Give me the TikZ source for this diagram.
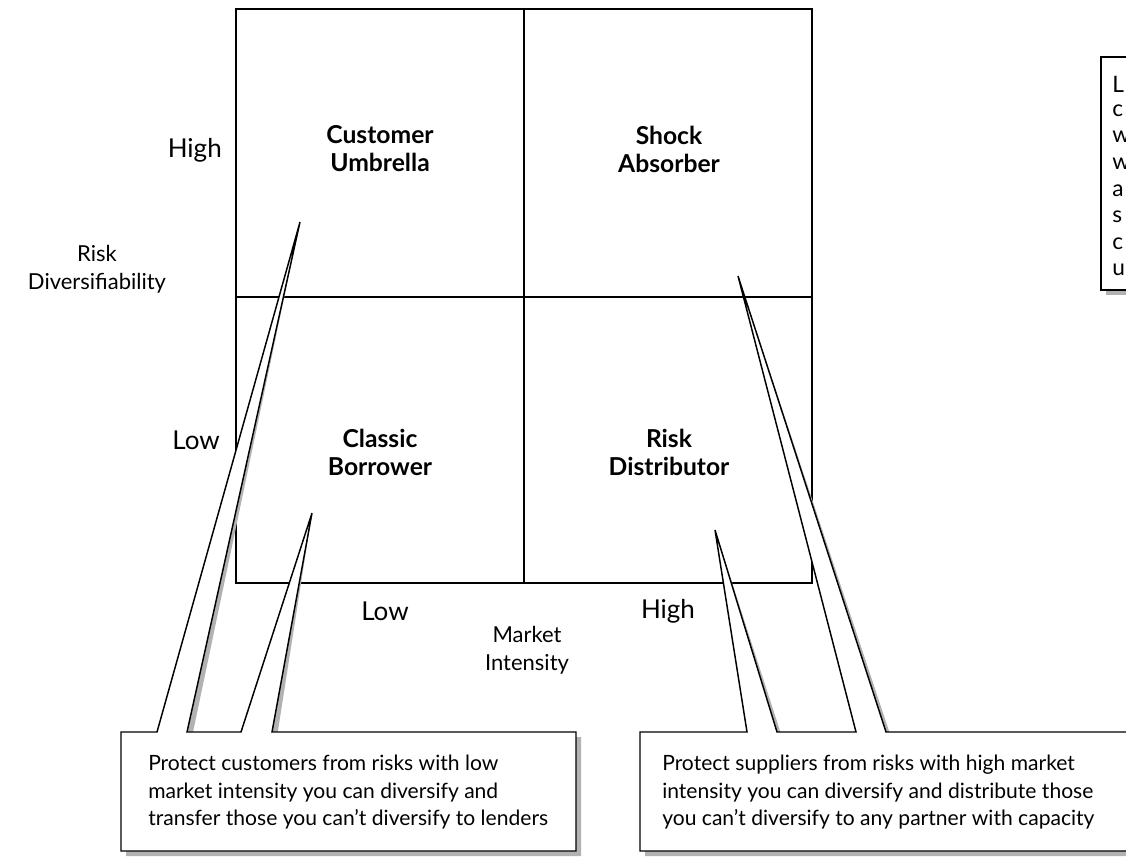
\documentclass[tikz,border=0pt]{standalone}
\usepackage{fontspec}
\setmainfont{Lato}
\begin{document}
\begin{tikzpicture}[x=0.75pt,y=-0.75pt,
  gridline/.style={draw=black, line width=1.1pt},
  quadtitle/.style={font=\bfseries\fontsize{18.5}{21}\selectfont, align=center, inner sep=0pt},
  ticklbl/.style={font=\fontsize{19.5}{21}\selectfont, inner sep=0pt},
  axistitle/.style={font=\fontsize{16.5}{21}\selectfont, align=center, inner sep=0pt},
  bodytext/.style={font=\fontsize{15.8}{20.6}\selectfont, align=left, inner sep=0pt},
  boxletter/.style={font=\fontsize{17}{20}\selectfont, inner sep=0pt, anchor=west},
  shadowshape/.style={fill=black!30, draw=none},
  calloutshape/.style={fill=white, draw=black, line width=1.1pt, line join=miter}]
\useasboundingbox (0,0) rectangle (1126,860);
\begin{scope}
\clip (0,0) rectangle (1126,860);

% the 2x2 grid
\draw[gridline] (236,9) rectangle (812,583);
\draw[gridline] (524,9) -- (524,583);
\draw[gridline] (236,297) -- (812,297);

% quadrant titles
\node[quadtitle] (cu) at (380,149) {Customer\\Umbrella};
\node[quadtitle] (sa) at (669,149) {Shock\\Absorber};
\node[quadtitle] (cb) at (380,452) {Classic\\Borrower};
\node[quadtitle] (rd) at (669,452) {Risk\\Distributor};

% axes
\node[ticklbl, anchor=east] (yhigh) at (222,150) {High};
\node[ticklbl, anchor=east] (ylow) at (220,440) {Low};
\node[axistitle] (yaxis) at (97,269) {Risk\\Diversifiability};
\node[ticklbl] (xlow) at (385,611) {Low};
\node[ticklbl] (xhigh) at (668,611) {High};
\node[axistitle] (xaxis) at (527,650) {Market\\Intensity};

% pointer tips
\coordinate (tipCU) at (300,222);
\coordinate (tipCB) at (312,513);
\coordinate (tipSA) at (738,276);
\coordinate (tipRD) at (715,530);

% callout outlines: first the offset shadows, then the white shapes
\newcommand\lowcallout[1]{%
  \path[#1] (121,732) -- (157,732) -- (tipCU) -- (187,732) -- (241,732)
    -- (tipCB) -- (272,732) -- (576,732) -- (576,851) -- (121,851) -- cycle;}
\newcommand\highcallout[1]{%
  \path[#1] (640,732) -- (747,732) -- (tipRD) -- (777,732) -- (856,732)
    -- (tipSA) -- (886,732) -- (1140,732) -- (1140,851) -- (640,851) -- cycle;}
\newcommand\sidebox[1]{%
  \path[#1] (1101,57) rectangle (1140,290);}

\lowcallout{shadowshape, shift={(5,5)}}
\highcallout{shadowshape, shift={(5,5)}}
\sidebox{shadowshape, shift={(5,5)}}
\lowcallout{calloutshape}
\highcallout{calloutshape}
\sidebox{calloutshape}

% callout texts
\node[bodytext, anchor=north west] (lowtext) at (148,755)
  {Protect customers from risks with low\\market intensity you can diversify and\\transfer those you can’t diversify to lenders};
\node[bodytext, anchor=north west] (hightext) at (662,755)
  {Protect suppliers from risks with high market\\intensity you can diversify and distribute those\\you can’t diversify to any partner with capacity};

% side box lines
\node[boxletter] (s1) at (1112,84) {L};
\node[boxletter] (s2) at (1112,111) {c};
\node[boxletter] (s3) at (1112,137) {w};
\node[boxletter] (s4) at (1112,164) {w};
\node[boxletter] (s5) at (1112,191) {a};
\node[boxletter] (s6) at (1112,217) {s};
\node[boxletter] (s7) at (1112,244) {c};
\node[boxletter] (s8) at (1112,270) {u};
\end{scope}
\end{tikzpicture}
\end{document}
